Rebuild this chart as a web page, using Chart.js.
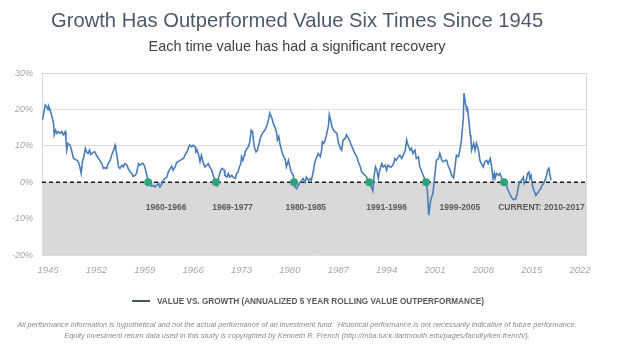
<!DOCTYPE html>
<html>
<head>
<meta charset="utf-8">
<script src="https://cdn.jsdelivr.net/npm/chart.js@4.4.0/dist/chart.umd.min.js"></script>
<style>
  html, body { margin: 0; padding: 0; background: #fff; }
  #wrap { position: relative; width: 628px; height: 353px; overflow: hidden; font-family: "Liberation Sans", Arial, sans-serif; }
  #chart { position: absolute; left: 0; top: 0; }
  .txt { position: absolute; white-space: nowrap; line-height: 1; }
  #title { left: 51px; top: 10px; font-size: 20.2px; color: #4d5a6c; }
  #subtitle { left: 0; width: 594px; text-align: center; top: 38.5px; font-size: 14.4px; color: #404040; }
  #legend { left: 132px; top: 298px; font-size: 8.2px; font-weight: bold; color: #595959; }
  #legend .swatch { display: inline-block; width: 18px; height: 2px; background: #44546a; vertical-align: middle; margin-right: 7px; position: relative; top: -1px; }
  .note { left: 0; width: 594px; text-align: center; font-size: 7.35px; font-style: italic; color: #8a8a8a; }
  #note1 { top: 321px; }
  #note2 { top: 332px; }
</style>
</head>
<body>
<div id="wrap">
  <canvas id="chart" width="628" height="353"></canvas>
  <div id="title" class="txt">Growth Has Outperformed Value Six Times Since 1945</div>
  <div id="subtitle" class="txt">Each time value has had a significant recovery</div>
  <div id="legend" class="txt"><span class="swatch"></span>VALUE VS. GROWTH (ANNUALIZED 5 YEAR ROLLING VALUE OUTPERFORMANCE)</div>
  <div id="note1" class="txt note">All performance information is hypothetical and not the actual performance of an investment fund.&nbsp; Historical performance is not necessarily indicative of future performance.</div>
  <div id="note2" class="txt note">Equity investment return data used in this study is copyrighted by Kenneth R. French (http://mba.tuck.dartmouth.edu/pages/faculty/ken.french/).</div>
</div>
<script>
// 5 year rolling value outperformance (%)
const years = [
  1944.2, 1944.6, 1944.8, 1945.0, 1945.1, 1945.3, 1945.5, 1945.8, 1945.9, 1946.1,
  1946.3, 1946.5, 1946.8, 1947.0, 1947.2, 1947.5, 1947.6, 1947.7, 1947.9, 1948.2,
  1948.4, 1948.7, 1949.2, 1949.4, 1949.6, 1949.8, 1950.0, 1950.2, 1950.4, 1950.6,
  1950.8, 1951.0, 1951.2, 1951.6, 1951.8, 1952.0, 1952.5, 1952.8, 1953.0, 1953.2,
  1953.5, 1953.7, 1954.0, 1954.2, 1954.5, 1954.7, 1954.8, 1955.0, 1955.2, 1955.4,
  1955.7, 1955.9, 1956.1, 1956.4, 1956.6, 1956.9, 1957.1, 1957.3, 1957.6, 1957.8,
  1958.1, 1958.3, 1958.6, 1958.8, 1959.0, 1959.3, 1959.5, 1959.8, 1960.0, 1960.2,
  1960.5, 1960.7, 1961.0, 1961.2, 1961.5, 1961.7, 1961.9, 1962.2, 1962.4, 1962.7,
  1962.9, 1963.1, 1963.4, 1963.6, 1964.1, 1964.6, 1964.8, 1965.1, 1965.3, 1965.5,
  1965.8, 1966.0, 1966.3, 1966.4, 1966.6, 1966.8, 1967.0, 1967.2, 1967.5, 1967.7,
  1968.0, 1968.2, 1968.4, 1968.7, 1968.9, 1969.3, 1969.5, 1969.7, 1970.0, 1970.2,
  1970.5, 1970.6, 1970.9, 1971.1, 1971.3, 1971.6, 1971.8, 1972.1, 1972.3, 1972.5,
  1972.7, 1972.9, 1973.0, 1973.2, 1973.4, 1973.5, 1973.8, 1974.0, 1974.2, 1974.4,
  1974.6, 1974.7, 1974.9, 1975.1, 1975.3, 1975.5, 1975.7, 1975.9, 1976.2, 1976.4,
  1976.7, 1976.9, 1977.1, 1977.4, 1977.6, 1977.9, 1978.1, 1978.2, 1978.4, 1978.6,
  1978.8, 1979.1, 1979.3, 1979.5, 1979.8, 1980.0, 1980.2, 1980.5, 1980.6, 1980.7,
  1981.0, 1981.2, 1981.5, 1981.7, 1981.9, 1982.2, 1982.4, 1982.7, 1982.9, 1983.1,
  1983.4, 1983.6, 1983.9, 1984.1, 1984.4, 1984.6, 1984.7, 1984.9, 1985.1, 1985.3,
  1985.6, 1985.7, 1985.9, 1986.1, 1986.3, 1986.5, 1986.8, 1987.0, 1987.3, 1987.5,
  1987.7, 1988.0, 1988.2, 1988.5, 1988.7, 1989.0, 1989.2, 1989.4, 1989.7, 1989.9,
  1990.2, 1990.4, 1990.6, 1990.9, 1991.1, 1991.5, 1991.7, 1992.0, 1992.2, 1992.4,
  1992.6, 1992.8, 1993.0, 1993.3, 1993.5, 1993.8, 1994.0, 1994.2, 1994.5, 1994.7,
  1995.0, 1995.2, 1995.4, 1995.7, 1995.9, 1996.2, 1996.4, 1996.7, 1996.9, 1997.1,
  1997.4, 1997.6, 1997.8, 1998.1, 1998.3, 1998.6, 1998.8, 1999.1, 1999.3, 1999.7,
  1999.9, 2000.1, 2000.3, 2000.5, 2000.7, 2000.9, 2001.1, 2001.2, 2001.5, 2001.7,
  2002.0, 2002.2, 2002.5, 2002.7, 2002.9, 2003.2, 2003.4, 2003.7, 2003.9, 2004.1,
  2004.4, 2004.6, 2004.8, 2005.1, 2005.2, 2005.4, 2005.6, 2005.7, 2005.9, 2006.1,
  2006.2, 2006.3, 2006.6, 2006.8, 2007.0, 2007.3, 2007.5, 2007.7, 2008.0, 2008.2,
  2008.5, 2008.7, 2009.0, 2009.2, 2009.4, 2009.6, 2009.7, 2009.9, 2010.2, 2010.4,
  2010.7, 2011.0, 2011.3, 2011.5, 2011.8, 2012.1, 2012.4, 2012.7, 2012.9, 2013.1,
  2013.3, 2013.5, 2013.8, 2013.9, 2014.2, 2014.4, 2014.6, 2014.7, 2014.9, 2015.1,
  2015.3, 2015.6, 2015.8, 2016.1, 2016.3, 2016.5, 2016.7, 2016.9, 2017.1, 2017.3,
  2017.5, 2017.6, 2017.8
];
const valueOutperf = [
  17.1, 21.2, 20.8, 19.9, 20.8, 19.9, 18.5, 16.2, 13.0, 14.3,
  13.4, 13.9, 13.4, 13.9, 13.0, 13.9, 11.6, 8.8, 10.7, 10.2,
  8.8, 6.5, 6.0, 5.6, 4.2, 2.4, 6.0, 7.0, 9.3, 8.3,
  7.9, 8.8, 7.6, 8.3, 8.3, 7.4, 6.0, 5.1, 3.8, 4.0,
  3.8, 5.1, 6.0, 7.4, 8.8, 10.2, 9.3, 7.0, 4.2, 3.8,
  4.7, 4.2, 5.1, 4.7, 3.8, 2.8, 2.4, 1.6, 1.9, 2.4,
  5.1, 4.7, 5.1, 5.1, 4.2, 1.9, 0.0, -0.9, -1.1, -0.9,
  -1.3, -0.9, -0.4, -1.3, -0.4, 0.5, 1.0, 1.4, 2.8, 3.8,
  4.4, 3.3, 4.2, 5.4, 6.0, 6.5, 7.4, 8.3, 9.3, 10.2,
  9.7, 10.2, 9.7, 8.3, 8.8, 7.4, 5.6, 7.4, 5.1, 4.2,
  4.7, 5.1, 4.2, 3.3, 1.9, 0.0, -0.9, 1.4, 3.3, 3.8,
  3.3, 1.9, 1.4, 2.4, 1.4, 1.9, 1.4, 1.0, 2.4, 2.8,
  4.2, 5.1, 7.0, 6.0, 7.4, 8.3, 9.3, 9.7, 11.1, 14.3,
  13.9, 12.0, 9.3, 8.3, 8.8, 10.2, 12.0, 13.0, 13.9, 14.3,
  15.7, 17.1, 19.0, 17.6, 16.2, 14.8, 13.4, 11.6, 12.5, 10.2,
  8.8, 7.0, 6.5, 4.2, 6.0, 4.2, 2.8, 1.9, 0.0, -1.3,
  -1.8, -0.9, 0.0, 0.5, 1.0, 0.0, 1.4, 0.5, 1.0, 0.5,
  3.0, 5.4, 7.0, 7.9, 7.0, 8.8, 11.1, 10.7, 11.6, 13.0,
  15.7, 18.5, 17.1, 15.2, 14.3, 13.9, 13.4, 11.1, 9.3, 8.8,
  11.6, 12.0, 13.0, 12.0, 11.1, 9.7, 8.8, 7.9, 7.0, 5.6,
  4.2, 2.8, 2.4, 1.9, 1.4, 0.0, -0.9, -2.4, 1.9, 4.2,
  3.3, 1.0, 3.3, 5.1, 4.2, 4.7, 3.3, 4.7, 4.2, 4.2,
  5.1, 6.5, 6.0, 7.0, 7.4, 6.5, 7.4, 8.8, 11.6, 10.2,
  8.8, 9.3, 7.9, 8.8, 6.5, 7.0, 4.2, 2.8, 1.9, 0.0,
  -2.2, -9.1, -5.9, -4.1, -3.1, 0.5, 4.2, 6.0, 6.5, 7.9,
  6.0, 5.6, 6.0, 6.0, 4.6, 3.3, 1.9, 1.2, 4.2, 7.4,
  7.0, 8.8, 11.1, 17.6, 24.5, 21.7, 19.9, 20.3, 17.1, 13.0,
  12.0, 8.8, 10.7, 8.8, 10.7, 8.8, 6.0, 5.1, 4.2, 5.6,
  6.0, 5.1, 6.5, 4.2, 1.0, 2.4, 1.0, 2.4, 1.9, 2.4,
  1.0, 0.0, -0.4, -1.8, -3.1, -4.3, -4.8, -4.5, -3.1, -0.9,
  0.0, 0.5, 1.4, -0.4, 0.5, 2.4, 2.8, 1.0, 1.9, -0.9,
  -2.2, -3.6, -3.1, -2.2, -1.8, -0.9, -0.4, 0.5, 1.4, 3.3,
  3.8, 2.4, 0.5
];

// start of each period where growth outperformed
const troughYears = [1959.5, 1969.3, 1980.6, 1991.5, 1999.7, 2011.0];
const periodLabels = ['1960-1966', '1969-1977', '1980-1985', '1991-1996', '1999-2005', 'CURRENT: 2010-2017'];
const periodLabelYears = [1962.1, 1971.7, 1982.3, 1994.0, 2004.6, 2016.4];
const periodLabelLevel = -6.9;

const xTickYears = [1945, 1952, 1959, 1966, 1973, 1980, 1987, 1994, 2001, 2008, 2015, 2022];
const xMin = 1944.13, xMax = 2023.0;
const yMin = -20, yMax = 30, yStep = 10;
const shadeFrom = 0, shadeTo = -20;

const linePoints = years.map((yr, i) => ({ x: yr, y: valueOutperf[i] }));
const troughPoints = troughYears.map(yr => ({ x: yr, y: 0 }));

// grey band below zero + light frame round the plot
const shadePlugin = {
    id: 'shade',
    beforeDatasetsDraw(chart) {
        const { ctx, chartArea: a, scales: { y } } = chart;
        const top = y.getPixelForValue(shadeFrom);
        const bot = y.getPixelForValue(shadeTo);
        ctx.save();
        ctx.fillStyle = '#d9d9d9';
        ctx.fillRect(a.left, top, a.right - a.left, bot - top);
        ctx.strokeStyle = '#d9d9d9';
        ctx.lineWidth = 1;
        ctx.strokeRect(a.left + 0.5, a.top + 0.5, a.right - a.left - 1, a.bottom - a.top - 1);
        ctx.restore();
    }
};

// period captions under the zero line
const periodPlugin = {
    id: 'periods',
    afterDatasetsDraw(chart) {
        const { ctx, scales: { x, y } } = chart;
        ctx.save();
        ctx.font = 'bold 8.5px "Liberation Sans", Arial, sans-serif';
        ctx.fillStyle = '#595959';
        ctx.textAlign = 'center';
        ctx.textBaseline = 'middle';
        periodLabels.forEach((lbl, i) => {
            ctx.fillText(lbl, x.getPixelForValue(periodLabelYears[i]), y.getPixelForValue(periodLabelLevel));
        });
        ctx.restore();
    }
};

const ctx = document.getElementById('chart').getContext('2d');
new Chart(ctx, {
    type: 'line',
    data: {
        datasets: [
            {
                label: 'Growth periods',
                data: troughPoints,
                showLine: false,
                pointRadius: 4,
                pointBackgroundColor: '#2fa47c',
                pointBorderColor: '#2fa47c',
                pointBorderWidth: 0,
                order: 0
            },
            {
                label: 'VALUE VS. GROWTH (ANNUALIZED 5 YEAR ROLLING VALUE OUTPERFORMANCE)',
                data: linePoints,
                borderColor: '#4a7ebb',
                borderWidth: 1.6,
                pointRadius: 0,
                tension: 0,
                order: 1
            },
            {
                label: 'Zero',
                data: [{ x: xMin, y: 0 }, { x: xMax, y: 0 }],
                borderColor: '#1a1a1a',
                borderWidth: 1.5,
                borderDash: [4, 3],
                pointRadius: 0,
                order: 2
            }
        ]
    },
    options: {
        responsive: false,
        animation: false,
        layout: { padding: { left: 0, top: 73, right: 41, bottom: 73 } },
        plugins: {
            legend: { display: false },
            tooltip: { enabled: false }
        },
        scales: {
            x: {
                type: 'linear',
                min: xMin,
                max: xMax,
                afterBuildTicks: (s) => { s.ticks = xTickYears.map(v => ({ value: v })); },
                afterFit: (s) => { s.height = 25; },
                grid: { display: false, drawTicks: false },
                border: { display: false },
                ticks: {
                    padding: 10,
                    maxRotation: 0,
                    autoSkip: false,
                    color: '#a6a6a6',
                    font: { family: '"Liberation Sans", Arial, sans-serif', size: 9.5, style: 'italic' },
                    callback: (v) => String(v)
                }
            },
            y: {
                min: yMin,
                max: yMax,
                afterFit: (s) => { s.width = 42; },
                grid: { color: '#dedede', lineWidth: 1, drawTicks: false },
                border: { display: false },
                ticks: {
                    stepSize: yStep,
                    padding: 9,
                    color: '#a6a6a6',
                    font: { family: '"Liberation Sans", Arial, sans-serif', size: 9, style: 'italic' },
                    callback: (v) => v + '%'
                }
            }
        }
    },
    plugins: [shadePlugin, periodPlugin]
});
</script>
</body>
</html>
